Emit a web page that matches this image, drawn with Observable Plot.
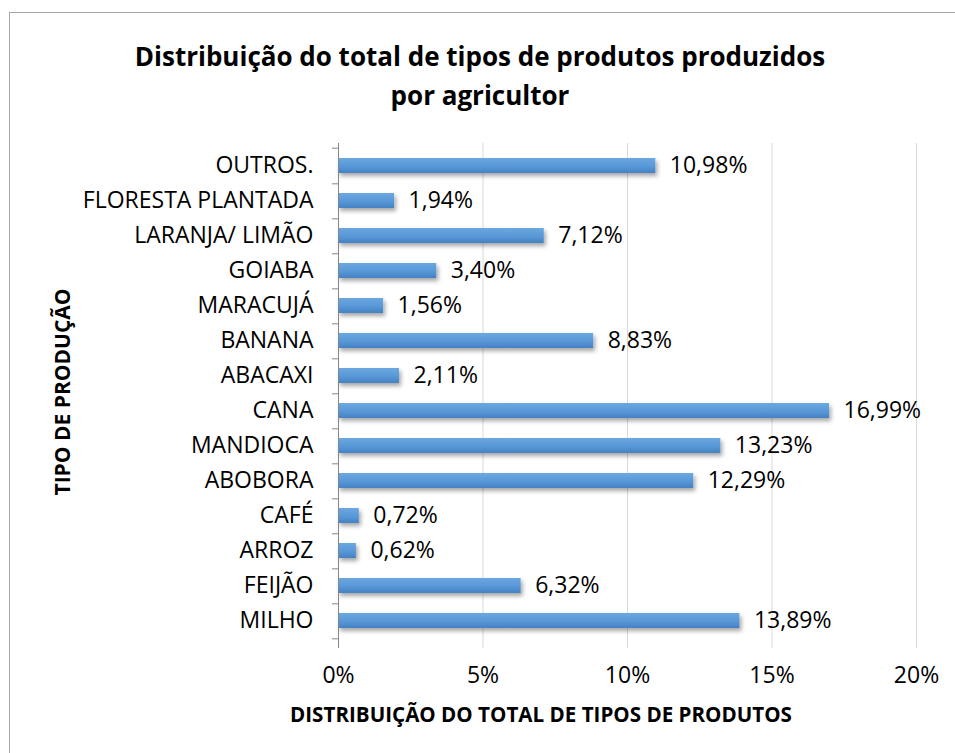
<!DOCTYPE html>
<html><head><meta charset="utf-8">
<script src="https://cdn.jsdelivr.net/npm/d3@7"></script>
<script src="https://cdn.jsdelivr.net/npm/@observablehq/plot@0.6"></script>
<style>
body{margin:0;background:#fff;font-family:"Open Sans",sans-serif;}
#wrap{position:relative;width:955px;height:753px;overflow:hidden;background:#fff}
#frame{position:absolute;left:9px;top:12px;width:960px;height:760px;border:1px solid #a6a6a6;box-sizing:border-box}
#title{position:absolute;left:9px;width:942px;top:37px;text-align:center;font-weight:bold;font-size:26px;line-height:39px;color:#000}
#chart{position:absolute;left:0;top:125px}
#xtitle{position:absolute;top:700px;left:141px;width:800px;text-align:center;font-weight:bold;font-size:20.6px;color:#000}
#ytitle{position:absolute;left:62px;top:392px;transform:translate(-50%,-50%) rotate(-90deg);white-space:nowrap;font-weight:bold;font-size:21px;color:#000}
</style>
</head><body>
<div id="wrap">
  <div id="frame"></div>
  <div id="title">Distribuição do total de tipos de produtos produzidos<br>por agricultor</div>
  <div id="chart"></div>
  <div id="xtitle">DISTRIBUIÇÃO DO TOTAL DE TIPOS DE PRODUTOS</div>
  <div id="ytitle">TIPO DE PRODUÇÃO</div>
</div>
<script>
const categories = ["OUTROS.","FLORESTA PLANTADA","LARANJA/ LIMÃO","GOIABA","MARACUJÁ","BANANA","ABACAXI","CANA","MANDIOCA","ABOBORA","CAFÉ","ARROZ","FEIJÃO","MILHO"];
const values = [10.98,1.94,7.12,3.40,1.56,8.83,2.11,16.99,13.23,12.29,0.72,0.62,6.32,13.89];
const xTicks = [0,5,10,15,20];
const xTickLabels = ["0%","5%","10%","15%","20%"];

const data = categories.map((c,i)=>({cat:c, v:values[i]}));
const fmt = v => v.toFixed(2).replace(".", ",") + "%";

const W = 955, H = 628;
const MT = 18, MB = 111;
const step = (H - MT - MB) / categories.length;

const plot = Plot.plot({
  width: W, height: H,
  marginLeft: 338, marginRight: 39, marginTop: MT, marginBottom: MB,
  style: {fontFamily: "'Open Sans', sans-serif", fontSize: "23px", color: "#000", background: "transparent", overflow: "visible"},
  x: {domain: [0,20], ticks: xTicks},
  y: {domain: categories, paddingInner: 0.58, paddingOuter: 0.29},
  marks: [
    Plot.gridX(xTicks.filter(t=>t>0), {stroke: "#d9d9d9", strokeOpacity: 1}),
    Plot.axisX({ticks: xTicks, tickFormat: d=>xTickLabels[xTicks.indexOf(d)], tickSize: 6, stroke: "#d9d9d9", tickPadding: 18, fontSize: 23, label: null, color: "#000"}),
    Plot.axisY({tickSize: 0, tickPadding: 25, fontSize: 23, label: null, color: "#000"}),
    Plot.barX(data, {y: "cat", x: "v", fill: "url(#barGrad)"}),
    Plot.text(data, {y: "cat", x: "v", text: d=>fmt(d.v), textAnchor: "start", dx: 14, fontSize: 23, fill: "#000"}),
    Plot.ruleX([0], {stroke: "#868686", strokeWidth: 1, insetBottom: -6}),
    Plot.ruleY(categories, {y: d=>d, x1: 0, x2: 0, insetLeft: -6, dy: step/2, stroke: "#868686"}),
    Plot.ruleY([categories[0]], {y: d=>d, x1: 0, x2: 0, insetLeft: -6, dy: -step/2, stroke: "#868686"})
  ]
});

// gradient and shadow defs
const svg = d3.select(plot);
const defs = svg.insert("defs", ":first-child");
const g = defs.append("linearGradient").attr("id","barGrad").attr("x1",0).attr("x2",0).attr("y1",0).attr("y2",1);
g.append("stop").attr("offset","0%").attr("stop-color","#6ca8e0");
g.append("stop").attr("offset","55%").attr("stop-color","#5898d7");
g.append("stop").attr("offset","100%").attr("stop-color","#4581c4");
const f = defs.append("filter").attr("id","shadow").attr("x","-10%").attr("y","-30%").attr("width","130%").attr("height","200%");
f.append("feDropShadow").attr("dx",2).attr("dy",3).attr("stdDeviation",2).attr("flood-color","#000").attr("flood-opacity",0.35);
svg.selectAll("g[aria-label='bar']").attr("filter","url(#shadow)");

document.getElementById("chart").appendChild(plot);
</script>
</body></html>
